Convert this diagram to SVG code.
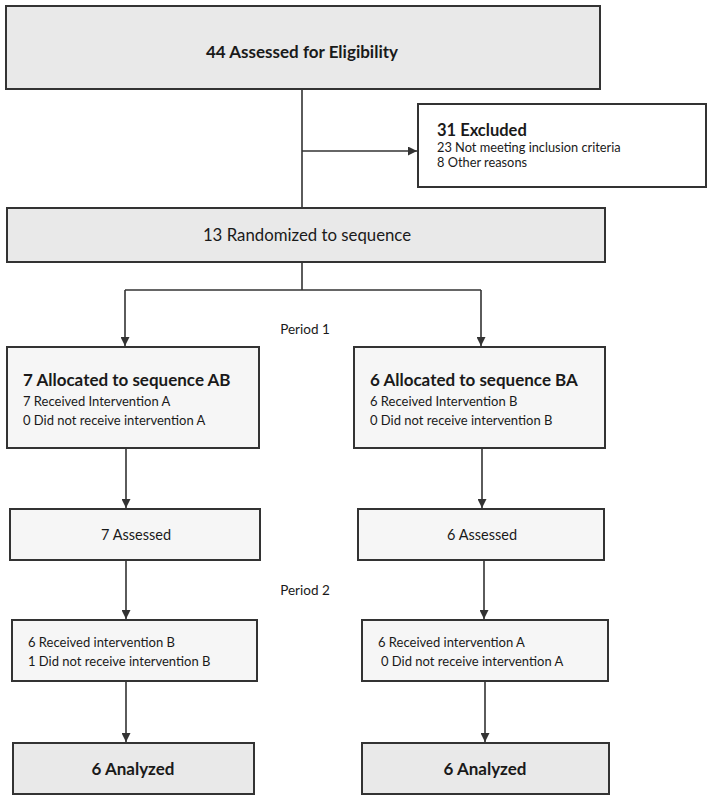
<svg xmlns="http://www.w3.org/2000/svg" width="709" height="801" viewBox="0 0 709 801">
<defs>
<marker id="ah" viewBox="0 0 10 10" refX="10" refY="5" markerWidth="9" markerHeight="9" markerUnits="userSpaceOnUse" orient="auto">
<path d="M0,0 L10,5 L0,10 Z" fill="#333"/>
</marker>
<style>
.g{fill:#e9e9e9;stroke:#333;stroke-width:2}
.w{fill:#f6f6f6;stroke:#333;stroke-width:2}
.wh{fill:#ffffff;stroke:#333;stroke-width:2}
.c{fill:none;stroke:#333;stroke-width:1.6}
.a{fill:none;stroke:#333;stroke-width:1.6;marker-end:url(#ah)}
text{font-family:Lato,"Open Sans","Liberation Sans",sans-serif;fill:#1a1a1a}
.b{font-weight:bold}
.m{text-anchor:middle}
</style>
</defs>
<g id="connectors">
<line class="c" x1="302" y1="89" x2="302" y2="208"/>
<line class="a" x1="302" y1="151" x2="417" y2="151"/>
<line class="c" x1="302" y1="262" x2="302" y2="290"/>
<polyline class="c" points="125,290 481,290"/>
<line class="a" x1="125" y1="290" x2="125" y2="346"/>
<line class="a" x1="481" y1="290" x2="481" y2="346"/>
<line class="a" x1="126" y1="448" x2="126" y2="508"/>
<line class="a" x1="482" y1="448" x2="482" y2="508"/>
<line class="a" x1="126" y1="560" x2="126" y2="619"/>
<line class="a" x1="484" y1="560" x2="484" y2="619"/>
<line class="a" x1="126" y1="681" x2="126" y2="742"/>
<line class="a" x1="485" y1="681" x2="485" y2="742"/>
</g>
<g id="assessed-eligibility">
<rect class="g" x="6" y="6" width="594" height="83"/>
<text class="b m" x="302" y="58" font-size="17">44 Assessed for Eligibility</text>
</g>
<g id="excluded">
<rect class="wh" x="418" y="104" width="288" height="83"/>
<text class="b" x="437" y="136" font-size="16.5">31 Excluded</text>
<text x="437" y="152" font-size="12.8">23 Not meeting inclusion criteria</text>
<text x="437" y="167" font-size="12.8">8 Other reasons</text>
</g>
<g id="randomized">
<rect class="g" x="7" y="208" width="598" height="54"/>
<text class="m" x="307" y="241" font-size="16.8">13 Randomized to sequence</text>
</g>
<g id="period1">
<text class="m" x="305" y="334" font-size="13.5">Period 1</text>
</g>
<g id="alloc-ab">
<rect class="w" x="7" y="347" width="252" height="101"/>
<text class="b" x="23" y="386" font-size="17">7 Allocated to sequence AB</text>
<text x="23" y="406" font-size="13">7 Received Intervention A</text>
<text x="23" y="425" font-size="13">0 Did not receive intervention A</text>
</g>
<g id="alloc-ba">
<rect class="w" x="354" y="347" width="251" height="101"/>
<text class="b" x="370" y="386" font-size="17">6 Allocated to sequence BA</text>
<text x="370" y="406" font-size="13">6 Received Intervention B</text>
<text x="370" y="425" font-size="13">0 Did not receive intervention B</text>
</g>
<g id="assessed-ab">
<rect class="w" x="10" y="509" width="250" height="51"/>
<text class="m" x="136" y="540" font-size="14.5">7 Assessed</text>
</g>
<g id="assessed-ba">
<rect class="w" x="358" y="509" width="246" height="51"/>
<text class="m" x="482" y="540" font-size="14.5">6 Assessed</text>
</g>
<g id="period2">
<text class="m" x="305" y="595" font-size="13.5">Period 2</text>
</g>
<g id="received-ab">
<rect class="w" x="12" y="620" width="245" height="61"/>
<text x="28" y="647" font-size="13">6 Received intervention B</text>
<text x="28" y="666" font-size="13">1 Did not receive intervention B</text>
</g>
<g id="received-ba">
<rect class="w" x="362" y="620" width="246" height="61"/>
<text x="378" y="647" font-size="13">6 Received intervention A</text>
<text x="381" y="666" font-size="13">0 Did not receive intervention A</text>
</g>
<g id="analyzed-ab">
<rect class="g" x="13" y="743" width="241" height="51"/>
<text class="b m" x="133" y="775" font-size="17">6 Analyzed</text>
</g>
<g id="analyzed-ba">
<rect class="g" x="362" y="743" width="247" height="51"/>
<text class="b m" x="485" y="775" font-size="17">6 Analyzed</text>
</g>
</svg>
